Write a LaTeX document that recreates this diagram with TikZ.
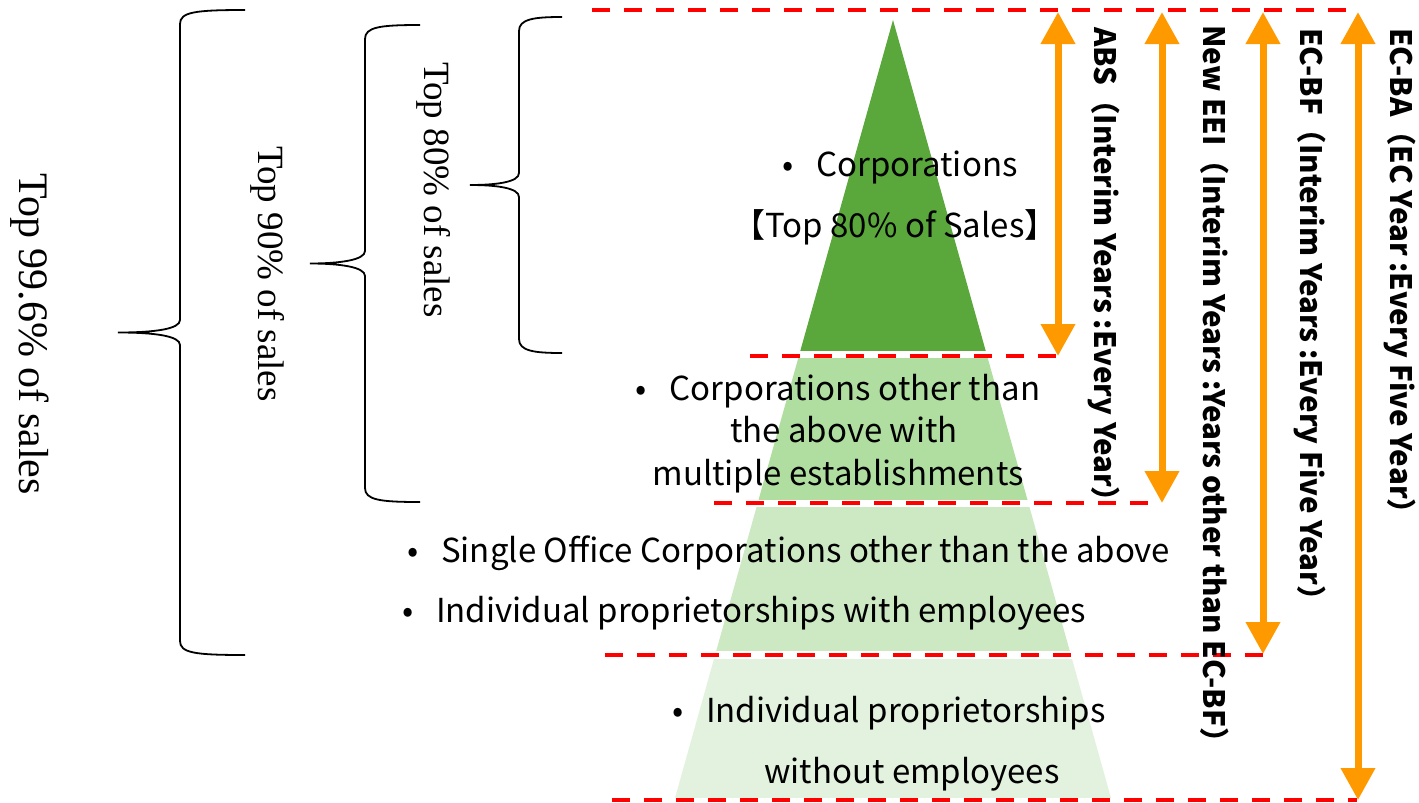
\documentclass[tikz,border=0pt]{standalone}
\usepackage{fontspec}
\setmainfont{Liberation Serif}
\newfontfamily\jpfont{Noto Sans CJK JP}
\usepackage{tikz}
\usetikzlibrary{arrows.meta,positioning}

\definecolor{tierA}{RGB}{90,167,60}
\definecolor{tierB}{RGB}{176,222,160}
\definecolor{tierC}{RGB}{205,233,195}
\definecolor{tierD}{RGB}{227,242,222}
\definecolor{spanorange}{RGB}{255,153,0}

\tikzset{
	cut/.style={red, line width=4.3pt, dash pattern=on 18pt off 14pt},
	span/.style={spanorange, line width=7pt, {Triangle[width=33pt,length=32pt]}-{Triangle[width=33pt,length=32pt]}},
	curly/.style={line width=1.8pt},
	item/.style={font=\jpfont\fontsize{33}{38}\selectfont, inner sep=0pt, anchor=base west},
	survey/.style={font=\jpfont\bfseries\fontsize{29.5}{33}\selectfont, rotate=-90, anchor=west, inner sep=0pt},
	share/.style={rotate=-90, inner sep=0pt}
}
\newcommand{\bul}{\makebox[34pt][l]{\textbullet}}

\begin{document}
\begin{tikzpicture}[x=1pt,y=-1pt]
				\useasboundingbox (0,0) rectangle (1419,803);
				
				% pyramid
				\begin{scope}
					\clip (893,20) -- (675,798) -- (1111,798) -- cycle;
					\fill[tierA] (650,0) rectangle (1150,351);
					\fill[tierB] (650,358) rectangle (1150,500);
					\fill[tierC] (650,507) rectangle (1150,651);
					\fill[tierD] (650,659) rectangle (1150,798);
				\end{scope}
				
				\draw[cut] (592,10) -- (1357,10);
				\draw[cut] (750,356) -- (1058,356);
				\draw[cut] (714,503) -- (1160,503);
				\draw[cut] (605,655) -- (1265,655);
				\draw[cut] (612,800) -- (1357,800);
				
				\draw[span] (1058,12) -- (1058,356);
				\draw[span] (1162,12) -- (1162,503);
				\draw[span] (1263,12) -- (1263,654);
				\draw[span] (1358,12) -- (1358,800);
				
				% % % % % % % % % % % % % % % % % % % % % % % % % %
				
				\draw[curly] (245,10) .. controls (195,10) and (180,12) .. (180,24) -- (180,320) .. controls (180,329) and (155,332.5) .. (118,332.5) .. controls (155,332.5) and (180,336) .. (180,345) -- (180,641) .. controls (180,653) and (195,655) .. (245,655);
				\draw[curly] (420,25) .. controls (380,25) and (365,27) .. (365,39) -- (365,251) .. controls (365,260) and (340,263.5) .. (310,263.5) .. controls (340,263.5) and (365,267) .. (365,276) -- (365,488) .. controls (365,500) and (380,502) .. (420,502);
				\draw[curly] (562,17) .. controls (534,17) and (519,19) .. (519,31) -- (519,173) .. controls (519,182) and (497,185) .. (470,185) .. controls (497,185) and (519,188) .. (519,197) -- (519,339) .. controls (519,351) and (534,353) .. (562,353);
				
				\node[share, font=\fontsize{42}{46}\selectfont] (s996) at (30,334) {Top 99.6\% of sales};
				\node[share, font=\fontsize{37}{41}\selectfont] (s90) at (268,274) {Top 90\% of sales};
				\node[share, font=\fontsize{37}{41}\selectfont] (s80) at (434,190) {Top 80\% of sales};
				
				\node[item] (corp) at (782,176) {\bul Corporations};
				\node[item, anchor=base] (corptop) at (895,237) {【Top 80\% of Sales】};
				\node[item, anchor=base] (multi) at (838,400) {\bul Corporations other than};
				\node[item, anchor=base] (multib) at (844,442) {the above with};
				\node[item, anchor=base] (multic) at (838,485) {multiple establishments};
				\node[item] (single) at (407,562) {\bul Single Office Corporations other than the above};
				\node[item] (withemp) at (402,622) {\bul Individual proprietorships with employees};
				\node[item] (noemp) at (672,722) {\bul Individual proprietorships};
				\node[item] (noempb) at (764,783) {without employees};
				
				\node[survey] (abs) at (1104,27) {ABS（Interim Years :Every Year）};
				\node[survey] (eei) at (1215,25) {New EEI（Interim Years :Years other than EC-BF）};
				\node[survey] (ecbf) at (1310,28) {EC-BF（Interim Years :Every Five Year）};
				\node[survey] (ecba) at (1400,28) {EC-BA（EC Year :Every Five Year）};
\end{tikzpicture}
\end{document}
